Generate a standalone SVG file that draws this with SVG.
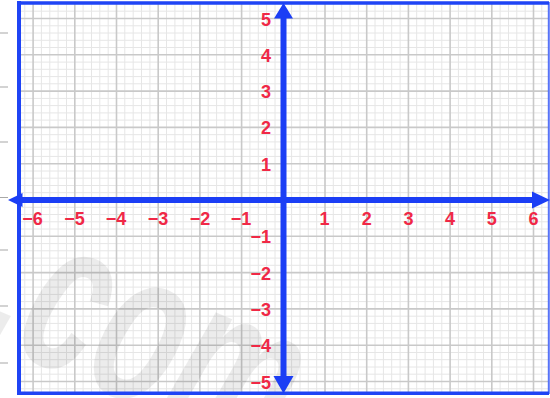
<svg xmlns="http://www.w3.org/2000/svg" width="550" height="398" viewBox="0 0 550 398">
  <style>
    .minor { stroke: #e6e6e6; stroke-width: 1; fill: none; }
    .major { stroke: #c9c9c9; stroke-width: 1.6; fill: none; }
    .tick { stroke: #a8a8a8; stroke-width: 1.2; }
    .frame { stroke: #1f44f5; fill: none; }
    .axis { stroke: #1b3ef5; stroke-width: 6; fill: none; }
    .head { fill: #1b3ef5; }
    .lbl { font-family: "Liberation Sans", Arial, sans-serif; font-weight: bold; font-size: 18px; fill: #f02846; }
    .xl { text-anchor: middle; }
    .yl { text-anchor: end; }
    .wm { font-family: "Liberation Sans", Arial, sans-serif; font-weight: bold; font-style: italic; font-size: 220px; fill: #000; fill-opacity: 0.075; }
  </style>
  <rect x="0" y="0" width="550" height="398" fill="#ffffff"/>
  <g id="outside-ticks">
    <path class="tick" d="M0 33H8M0 87H8M0 142H8M0 197.5H8M0 250H8M0 306H8M0 363H8"/>
  </g>
  <g id="grid">
    <path class="minor" d="M24.8 3V393M41.4 3V393M49.8 3V393M58.1 3V393M66.5 3V393M83.1 3V393M91.5 3V393M99.8 3V393M108.2 3V393M124.8 3V393M133.2 3V393M141.5 3V393M149.9 3V393M166.5 3V393M174.9 3V393M183.2 3V393M191.6 3V393M208.2 3V393M216.6 3V393M224.9 3V393M233.3 3V393M249.9 3V393M258.3 3V393M266.6 3V393M275 3V393M291.6 3V393M300 3V393M308.3 3V393M316.7 3V393M333.3 3V393M341.7 3V393M350 3V393M358.4 3V393M375 3V393M383.4 3V393M391.7 3V393M400.1 3V393M416.7 3V393M425.1 3V393M433.4 3V393M441.8 3V393M458.4 3V393M466.8 3V393M475.1 3V393M483.5 3V393M500.1 3V393M508.5 3V393M516.8 3V393M525.2 3V393M541.8 3V393
      M19 11.2H548M19 25.8H548M19 33H548M19 40.3H548M19 47.5H548M19 62.1H548M19 69.3H548M19 76.6H548M19 83.8H548M19 98.4H548M19 105.6H548M19 112.9H548M19 120.1H548M19 134.7H548M19 141.9H548M19 149.2H548M19 156.4H548M19 171H548M19 178.2H548M19 185.5H548M19 192.7H548M19 207.3H548M19 214.5H548M19 221.8H548M19 229H548M19 243.6H548M19 250.8H548M19 258.1H548M19 265.3H548M19 279.9H548M19 287.1H548M19 294.4H548M19 301.6H548M19 316.2H548M19 323.4H548M19 330.7H548M19 337.9H548M19 352.5H548M19 359.7H548M19 367H548M19 374.2H548M19 388.8H548"/>
    <path class="major" d="M33.1 3V393M74.8 3V393M116.5 3V393M158.2 3V393M199.9 3V393M241.6 3V393M325 3V393M366.7 3V393M408.4 3V393M450.1 3V393M491.8 3V393M533.5 3V393
      M19 18.5H548M19 54.8H548M19 91.1H548M19 127.4H548M19 163.7H548M19 236.3H548M19 272.6H548M19 308.9H548M19 345.2H548M19 381.5H548"/>
  </g>
  <g id="watermark">
    <text class="wm" transform="translate(-26,336) rotate(23) scale(0.62,1)">.com</text>
  </g>
  <g id="frame">
    <path class="frame" stroke-width="3.5" d="M17 3H549M17 393.2H549"/>
    <path class="frame" stroke-width="4" d="M19 1V395"/>
    <path class="frame" stroke-width="2" stroke-opacity="0.75" d="M548.8 2V394"/>
  </g>
  <g id="connectors">
    <path class="axis" d="M20 200H534"/>
    <path class="axis" d="M283.5 16V378"/>
    <polygon class="head" points="8,200 22.5,193 22.5,207"/>
    <polygon class="head" points="550,200 532,191.5 532,208.5"/>
    <polygon class="head" points="283.5,3 274,18.5 293,18.5"/>
    <polygon class="head" points="283.5,393.5 273.5,376 293.5,376"/>
  </g>
  <g id="x-labels" class="lbl xl">
    <text x="32.5" y="224.5">−6</text>
    <text x="74.5" y="224.5">−5</text>
    <text x="116" y="224.5">−4</text>
    <text x="158" y="224.5">−3</text>
    <text x="200" y="224.5">−2</text>
    <text x="241" y="224.5">−1</text>
    <text x="324.5" y="224.5">1</text>
    <text x="366.7" y="224.5">2</text>
    <text x="408.4" y="224.5">3</text>
    <text x="450.1" y="224.5">4</text>
    <text x="491.8" y="224.5">5</text>
    <text x="533.5" y="224.5">6</text>
  </g>
  <g id="y-labels" class="lbl yl">
    <text x="271" y="25.5">5</text>
    <text x="271" y="61.8">4</text>
    <text x="271" y="98.1">3</text>
    <text x="271" y="134.4">2</text>
    <text x="271" y="170.7">1</text>
    <text x="271" y="243.3">−1</text>
    <text x="271" y="279.6">−2</text>
    <text x="271" y="315.9">−3</text>
    <text x="271" y="352.2">−4</text>
    <text x="271" y="388.5">−5</text>
  </g>
</svg>
